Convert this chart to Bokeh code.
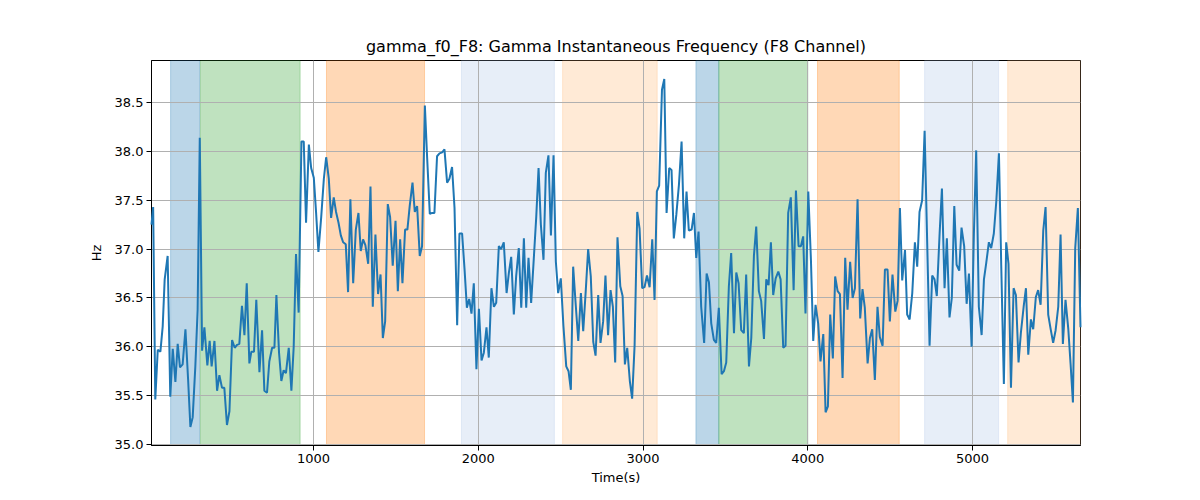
from bokeh.plotting import figure
from bokeh.models import BoxAnnotation, FixedTicker, PrintfTickFormatter, Range1d
from bokeh.embed import file_html
from bokeh.resources import INLINE

# ---- data ----
time_s = [17, 27, 40, 55, 71, 85, 97, 115, 131, 146, 162, 176, 190, 206, 223, 239, 253, 267, 283, 297,
          310, 324, 338, 356, 370, 382, 399, 415, 429, 445, 459, 475, 490, 506, 522, 536, 550, 566, 581, 595,
          611, 623, 639, 653, 672, 688, 702, 718, 732, 749, 763, 775, 791, 805, 819, 833, 850, 866, 880, 894,
          910, 927, 941, 955, 972, 986, 1002, 1016, 1030, 1047, 1063, 1077, 1093, 1107, 1123, 1137, 1152, 1166, 1180, 1196,
          1210, 1224, 1241, 1257, 1273, 1287, 1301, 1315, 1332, 1346, 1360, 1376, 1392, 1407, 1421, 1435, 1451, 1465, 1481, 1498,
          1512, 1526, 1540, 1556, 1570, 1584, 1601, 1615, 1629, 1645, 1659, 1676, 1690, 1706, 1720, 1734, 1750, 1765, 1781, 1795,
          1811, 1825, 1841, 1856, 1872, 1886, 1902, 1917, 1931, 1945, 1959, 1973, 1989, 2004, 2020, 2034, 2050, 2064, 2080, 2095,
          2109, 2125, 2139, 2155, 2172, 2186, 2200, 2216, 2230, 2246, 2261, 2277, 2291, 2305, 2321, 2337, 2352, 2366, 2380, 2396,
          2410, 2426, 2441, 2457, 2471, 2485, 2501, 2517, 2534, 2548, 2562, 2576, 2592, 2607, 2623, 2637, 2653, 2667, 2683, 2698,
          2712, 2728, 2742, 2758, 2772, 2788, 2803, 2817, 2831, 2845, 2862, 2876, 2890, 2904, 2920, 2934, 2949, 2965, 2979, 2995,
          3009, 3024, 3040, 3056, 3070, 3084, 3098, 3115, 3129, 3143, 3159, 3173, 3187, 3202, 3218, 3234, 3250, 3264, 3278, 3295,
          3309, 3323, 3337, 3353, 3371, 3386, 3400, 3414, 3430, 3444, 3460, 3477, 3491, 3505, 3521, 3535, 3552, 3566, 3580, 3596,
          3612, 3626, 3643, 3657, 3673, 3687, 3703, 3717, 3734, 3748, 3762, 3776, 3790, 3805, 3821, 3835, 3851, 3865, 3881, 3897,
          3914, 3928, 3944, 3958, 3972, 3986, 4003, 4019, 4033, 4047, 4063, 4077, 4094, 4108, 4122, 4136, 4152, 4166, 4181, 4195,
          4211, 4227, 4241, 4257, 4272, 4286, 4302, 4318, 4332, 4346, 4363, 4377, 4391, 4407, 4423, 4437, 4454, 4468, 4484, 4498,
          4514, 4531, 4545, 4559, 4573, 4590, 4603, 4618, 4634, 4650, 4664, 4678, 4694, 4709, 4739, 4755, 4769, 4783, 4800, 4814,
          4830, 4844, 4860, 4874, 4889, 4903, 4919, 4933, 4949, 4964, 4978, 4994, 5008, 5022, 5038, 5055, 5069, 5083, 5099, 5113,
          5129, 5144, 5160, 5174, 5190, 5204, 5218, 5233, 5249, 5263, 5279, 5293, 5310, 5324, 5338, 5354, 5368, 5384, 5398, 5413,
          5429, 5443, 5459, 5475, 5489, 5504, 5520, 5534, 5548, 5564, 5581, 5595, 5609, 5623, 5639, 5655]

freq_hz = [37.25, 37.43, 35.46, 35.97, 35.95, 36.21, 36.69, 36.93, 35.49, 35.98, 35.64, 36.03, 35.79, 35.82, 36.18, 35.67, 35.18, 35.28, 35.80, 36.38,
           38.14, 35.96, 36.20, 35.81, 36.06, 35.80, 36.06, 35.55, 35.71, 35.58, 35.58, 35.20, 35.34, 36.07, 35.99, 36.02, 36.03, 36.42, 36.12, 36.65,
           35.83, 35.95, 35.95, 36.48, 35.74, 36.17, 35.55, 35.53, 35.85, 35.99, 35.99, 36.53, 35.94, 35.65, 35.76, 35.73, 35.99, 35.55, 36.00, 36.95,
           36.35, 38.10, 38.10, 37.27, 38.07, 37.83, 37.73, 37.37, 36.97, 37.33, 37.72, 37.94, 37.72, 37.32, 37.53, 37.38, 37.27, 37.14, 37.07, 37.05,
           36.56, 37.51, 36.65, 37.20, 37.37, 36.98, 37.10, 37.04, 36.85, 37.64, 36.41, 37.15, 36.54, 36.74, 36.09, 36.26, 37.46, 37.33, 36.83, 37.29,
           36.57, 37.10, 36.65, 37.20, 37.20, 37.44, 37.68, 37.38, 37.44, 36.93, 37.03, 38.47, 37.93, 37.36, 37.37, 37.37, 37.95, 37.98, 37.99, 38.02,
           37.68, 37.72, 37.84, 37.42, 36.22, 37.16, 37.16, 36.79, 36.40, 36.49, 36.34, 36.65, 35.77, 36.39, 35.86, 35.94, 36.20, 35.89, 36.60, 36.41,
           36.45, 37.03, 37.00, 37.07, 36.55, 36.76, 36.92, 36.33, 36.72, 37.01, 36.40, 37.11, 36.40, 36.91, 36.45, 36.90, 37.33, 37.83, 37.25, 36.89,
           37.78, 37.96, 37.14, 37.96, 36.87, 36.55, 36.70, 36.21, 35.80, 35.75, 35.56, 36.82, 36.42, 36.06, 36.55, 36.16, 36.59, 37.00, 36.72, 36.05,
           35.91, 36.53, 36.04, 36.26, 36.73, 36.12, 36.58, 36.41, 35.84, 37.12, 36.62, 36.52, 35.82, 35.99, 35.65, 35.47, 36.02, 37.38, 37.21, 36.60,
           36.61, 36.73, 36.61, 37.10, 36.48, 37.59, 37.65, 38.63, 38.74, 37.37, 37.83, 37.81, 37.11, 37.35, 37.66, 38.10, 37.11, 37.59, 37.19, 37.20,
           37.37, 36.91, 37.18, 36.41, 36.04, 36.75, 36.66, 36.24, 36.07, 36.04, 36.40, 35.72, 35.75, 35.84, 36.62, 36.96, 36.14, 36.76, 36.65, 36.17,
           36.14, 36.74, 35.80, 36.09, 36.93, 37.23, 36.57, 36.47, 36.08, 36.69, 36.63, 37.07, 36.53, 36.70, 36.77, 36.69, 35.99, 36.01, 37.37, 37.53,
           36.58, 37.60, 37.03, 37.03, 37.13, 36.34, 37.59, 36.89, 36.06, 36.43, 36.24, 35.85, 36.13, 35.33, 35.39, 36.33, 35.88, 36.72, 36.57, 36.54,
           35.68, 36.91, 36.38, 36.87, 36.50, 36.60, 37.51, 36.29, 36.59, 36.40, 35.83, 36.09, 36.18, 35.66, 36.41, 36.10, 36.01, 36.79, 36.79, 36.26,
           36.74, 36.36, 36.47, 37.42, 36.68, 36.99, 36.33, 36.28, 36.55, 37.07, 36.82, 37.38, 37.50, 38.21, 36.01, 36.73, 36.69, 36.52, 37.16, 37.62,
           36.60, 37.11, 36.30, 36.50, 37.44, 36.84, 36.78, 37.22, 37.03, 36.44, 36.75, 36.00, 37.16, 38.01, 36.41, 36.12, 36.69, 36.86, 37.07, 37.01,
           37.16, 37.49, 37.98, 36.83, 35.62, 37.07, 36.85, 35.58, 36.60, 36.53, 35.84, 36.14, 36.41, 36.60, 35.92, 36.28, 36.18, 36.51, 36.58, 36.43,
           37.19, 37.43, 36.33, 36.17, 36.04, 36.17, 36.41, 37.15, 36.03, 36.48, 36.18, 35.82, 35.43, 37.01, 37.42, 36.20]

band_start = [133, 314, 1079, 1898, 2512, 3321, 3460, 4059, 4709, 5213]
band_end = [309, 919, 1674, 2462, 3086, 3460, 4000, 4555, 5158, 5655]
band_kind = ["blue", "green", "orange", "lightblue", "lightorange",
             "blue", "green", "orange", "lightblue", "lightorange"]

x_ticks = [1000, 2000, 3000, 4000, 5000]
y_ticks = [35.0, 35.5, 36.0, 36.5, 37.0, 37.5, 38.0, 38.5]

# ---- styles ----
kind_style = {
    "blue": ("#1f77b4", 0.3),
    "green": ("#2ca02c", 0.3),
    "orange": ("#ff7f0e", 0.3),
    "lightblue": ("#aec7e8", 0.3),
    "lightorange": ("#ffbb78", 0.3),
}
FONT = "DejaVu Sans"

p = figure(width=1192, height=492, output_backend="svg", toolbar_location=None,
           x_range=Range1d(17, 5655), y_range=Range1d(34.99, 38.93),
           min_border_left=151, min_border_right=112, min_border_top=60, min_border_bottom=47,
           title="gamma_f0_F8: Gamma Instantaneous Frequency (F8 Channel)")

for s, e, k in zip(band_start, band_end, band_kind):
    c, a = kind_style[k]
    p.add_layout(BoxAnnotation(left=s, right=e, fill_color=c, fill_alpha=a,
                               line_color=c, line_alpha=a, line_width=1, level="underlay"))

r = p.line(time_s, freq_hz, line_color="#1f77b4", line_width=2)
r.level = "overlay"

p.title.align = "center"
p.title.text_font = FONT
p.title.text_font_size = "16px"
p.title.text_font_style = "normal"
p.title.text_color = "black"

p.xaxis.ticker = FixedTicker(ticks=x_ticks)
p.yaxis.ticker = FixedTicker(ticks=y_ticks)
p.yaxis.formatter = PrintfTickFormatter(format="%.1f")
p.xaxis.axis_label = "Time(s)"
p.yaxis.axis_label = "Hz"

for ax in [p.xaxis[0], p.yaxis[0]]:
    ax.axis_label_text_font = FONT
    ax.axis_label_text_font_size = "13px"
    ax.axis_label_text_font_style = "normal"
    ax.axis_label_text_color = "black"
    ax.major_label_text_font = FONT
    ax.major_label_text_font_size = "13px"
    ax.major_label_text_color = "black"
    ax.major_tick_in = 0
    ax.major_tick_out = 5
    ax.minor_tick_line_color = None
    ax.axis_line_color = "black"
    ax.major_tick_line_color = "black"
    ax.major_label_standoff = 3
p.xaxis.axis_label_standoff = 4
p.yaxis.axis_label_standoff = 8

for g in [p.xgrid[0], p.ygrid[0]]:
    g.grid_line_color = "#b0b0b0"
    g.grid_line_width = 1
    g.level = "glyph"

p.outline_line_color = "black"
p.outline_line_width = 1
p.background_fill_color = "white"
p.border_fill_color = "white"

open("out.html", "w").write(file_html(p, INLINE))
